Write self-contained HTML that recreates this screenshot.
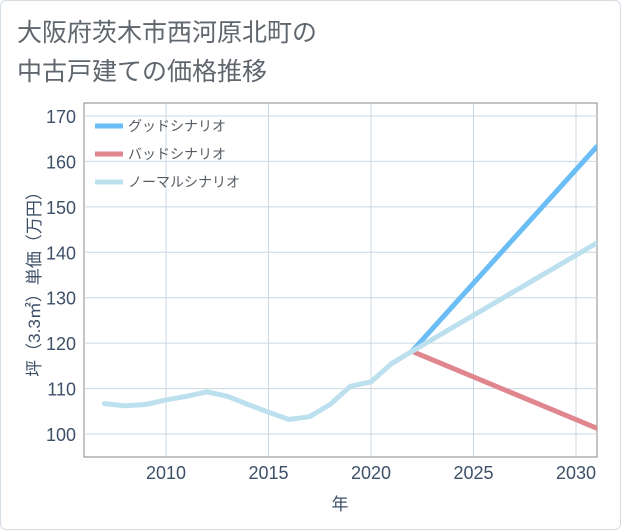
<!DOCTYPE html>
<html><head><meta charset="utf-8"><style>
body{margin:0;background:#fff;font-family:"Liberation Sans","Noto Sans CJK JP",sans-serif;}
#wrap{position:relative;width:619px;height:528px;border:1px solid #d5dde5;border-radius:6px;overflow:hidden;background:#fff}
</style></head><body>
<div id="wrap">
<svg id="chart" width="621" height="530" style="position:absolute;left:-1px;top:-1px"></svg>
</div>
<script>
const years=[2007,2008,2009,2010,2011,2012,2013,2014,2015,2016,2017,2018,2019,2020,2021,2022];
const normalVals=[106.7,106.2,106.5,107.5,108.3,109.3,108.3,106.5,104.8,103.2,103.8,106.5,110.5,111.5,115.5,118.2];
const goodYears=[2022,2031];
const goodVals=[118.2,163.2];
const badYears=[2022,2031];
const badVals=[118.2,101.3];
const normFutureYears=[2022,2031];
const normFutureVals=[118.2,142];
const yTicks=[100,110,120,130,140,150,160,170];
const xTicks=[2010,2015,2020,2025,2030];
const legendLabels=["グッドシナリオ","バッドシナリオ","ノーマルシナリオ"];
const legendColors=["#6bbdf5","#e0868f","#bde0ee"];

const NS="http://www.w3.org/2000/svg";
const svg=document.getElementById('chart');
const L=84,R=597,T=103,B=457;
const X=v=>166+(v-2010)*20.5;
const Y=v=>434-(v-100)*4.543;
function mk(t,a,txt){const e=document.createElementNS(NS,t);for(const k in a)e.setAttribute(k,a[k]);if(txt!=null)e.textContent=txt;svg.appendChild(e);return e;}
let e;
e=mk('text',{x:17,y:41,'font-size':25,fill:'#5f666d'},'大阪府茨木市西河原北町の');


e=mk('text',{x:17,y:80,'font-size':25,fill:'#5f666d'},'中古戸建ての価格推移');


e=mk('rect',{x:L,y:T,width:R-L,height:B-T,fill:'#fff',stroke:'#888','stroke-width':1});


yTicks.forEach(v=>{
 e=mk('line',{x1:L,x2:R,y1:Y(v),y2:Y(v),stroke:'#c9d7e3','stroke-width':1});
 
 
 e=mk('text',{x:L-8,y:Y(v)+7,'font-size':18,fill:'#3d5068','text-anchor':'end'},v);
 
 
});
xTicks.forEach(v=>{
 e=mk('line',{x1:X(v),x2:X(v),y1:T,y2:B,stroke:'#c9d7e3','stroke-width':1});
 
 
 e=mk('text',{x:X(v),y:B+22,'font-size':18,fill:'#3d5068','text-anchor':'middle'},v);
 
 
});
e=mk('text',{x:340,y:510,'font-size':17,fill:'#3d5068','text-anchor':'middle'},'年');


e=mk('text',{x:0,y:0,'font-size':17,fill:'#3d5068','text-anchor':'middle',transform:'translate(40,280) rotate(-90)'},'坪（3.3㎡）単価（万円）');


function line(xs,ys,c,n){
 const d=xs.map((x,i)=>(i?'L':'M')+X(x).toFixed(1)+','+Y(ys[i]).toFixed(1)).join('');
 const p=mk('path',{d:d,fill:'none',stroke:c,'stroke-width':5,'stroke-linejoin':'round','stroke-linecap':'round','clip-path':'url(#clip)'});
 
 
}
const defs=mk('defs',{});const cp=document.createElementNS(NS,'clipPath');cp.setAttribute('id','clip');
const cr=document.createElementNS(NS,'rect');cr.setAttribute('x',L);cr.setAttribute('y',T);cr.setAttribute('width',R-L);cr.setAttribute('height',B-T);cp.appendChild(cr);defs.appendChild(cp);
line(goodYears,goodVals,legendColors[0],'good-scenario-line');
line(badYears,badVals,legendColors[1],'bad-scenario-line');
line(normFutureYears,normFutureVals,legendColors[2],'normal-scenario-forecast-line');
line(years,normalVals,legendColors[2],'normal-scenario-history-line');
legendLabels.forEach((t,i)=>{
 const y=126+i*28;
 e=mk('line',{x1:95,x2:123,y1:y,y2:y,stroke:legendColors[i],'stroke-width':5});
 
 
 e=mk('text',{x:128,y:y+5,'font-size':14,fill:'#555c63'},t);
 
 
});
</script>
</body></html>
